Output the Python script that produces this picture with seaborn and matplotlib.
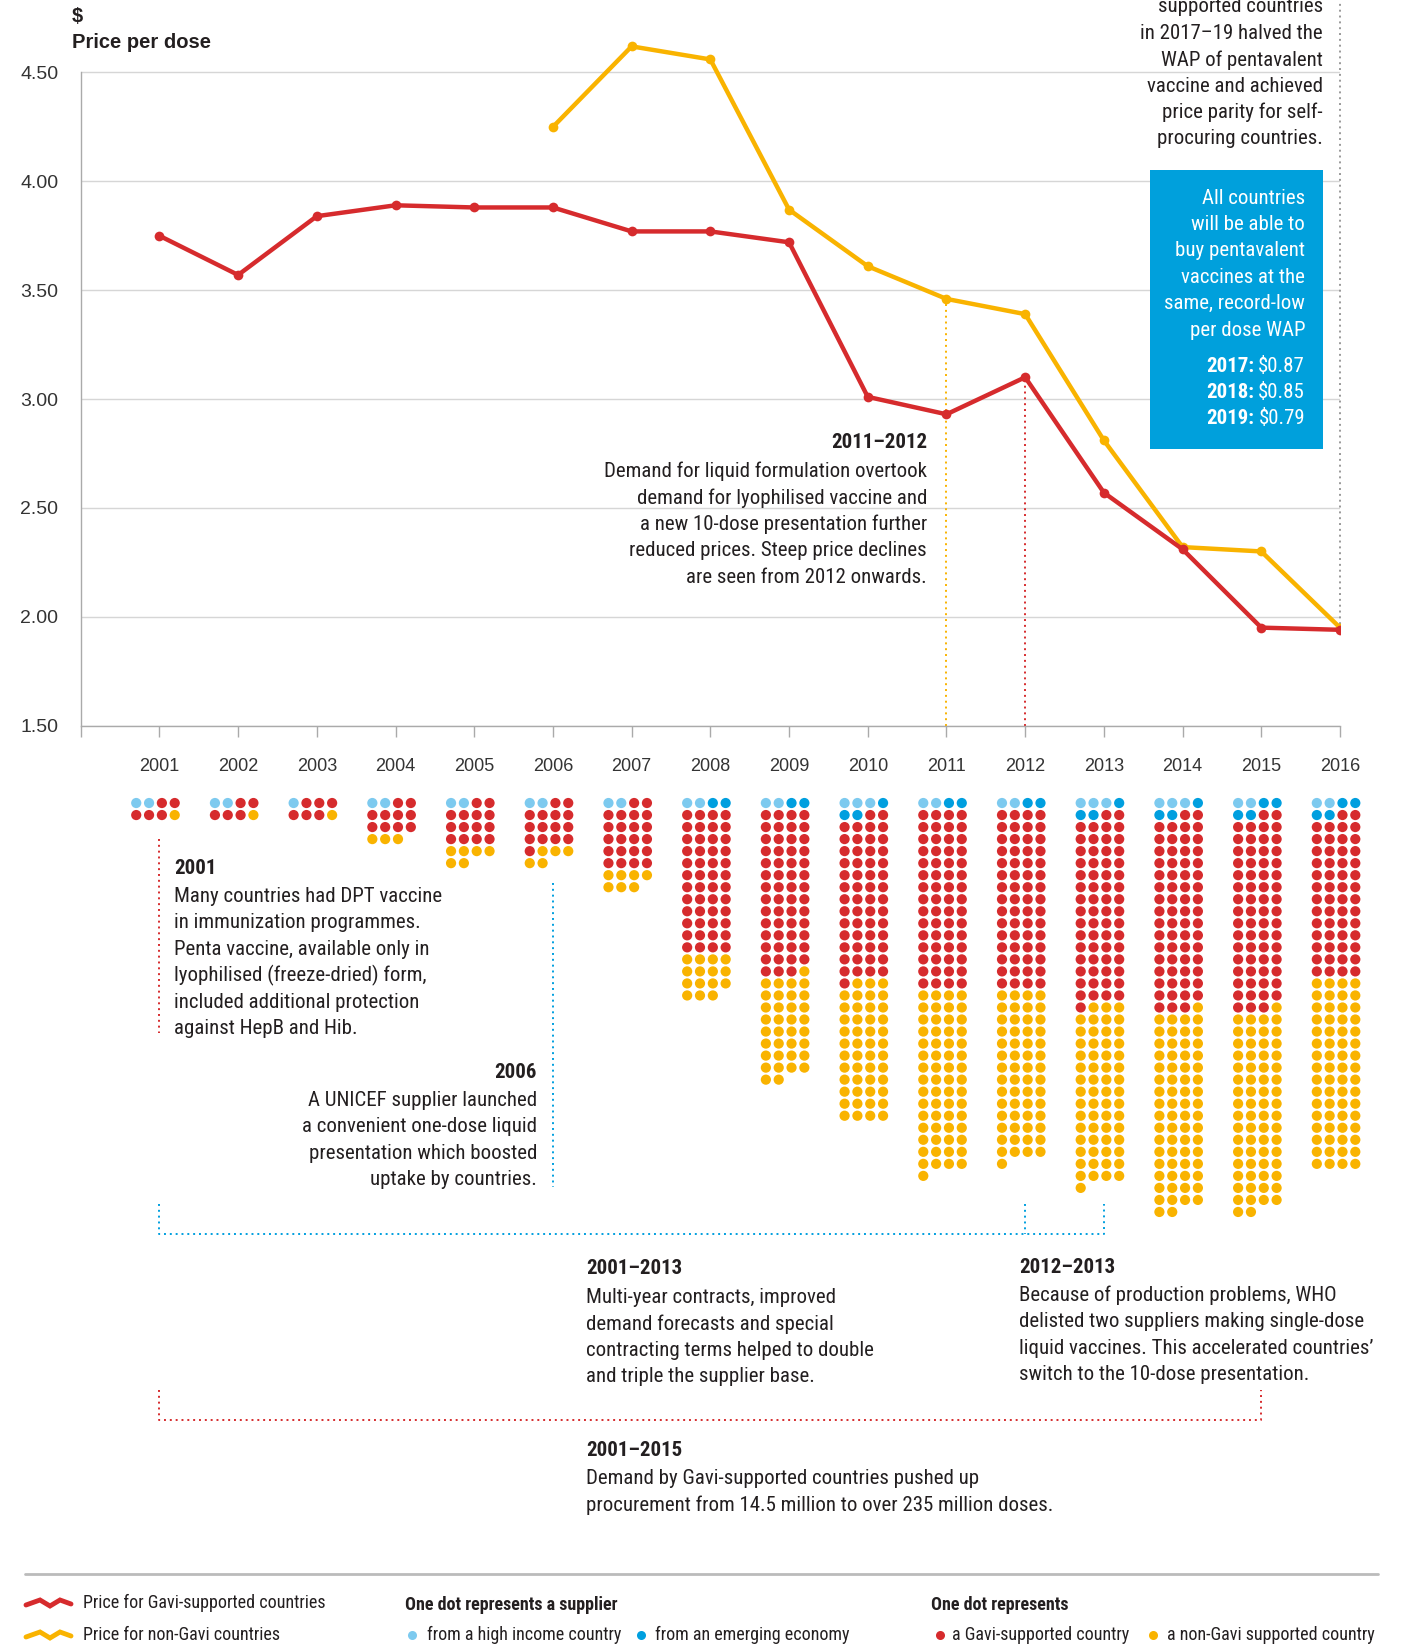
import numpy as np
import pandas as pd
import matplotlib.pyplot as plt
import matplotlib.transforms as mtransforms
from matplotlib.lines import Line2D
from matplotlib.patches import Rectangle
from matplotlib import font_manager
import seaborn as sns

# price per dose, $
years = list(range(2001, 2017))
gavi_price = [3.75, 3.57, 3.84, 3.89, 3.88, 3.88, 3.77, 3.77, 3.72, 3.01, 2.93, 3.10, 2.57, 2.31, 1.95, 1.94]
non_gavi_years = list(range(2006, 2017))
non_gavi_price = [4.25, 4.62, 4.56, 3.87, 3.61, 3.46, 3.39, 2.81, 2.32, 2.30, 1.95]

# one dot per supplier / country, per year
high_income = [2, 2, 1, 2, 2, 2, 2, 2, 2, 3, 2, 2, 3, 3, 2, 2]
emerging = [0, 0, 0, 0, 0, 0, 0, 2, 2, 3, 2, 2, 3, 3, 4, 4]
gavi_countries = [5, 5, 6, 10, 14, 15, 22, 48, 55, 55, 60, 60, 63, 65, 65, 54]
non_gavi_countries = [1, 1, 1, 3, 6, 5, 7, 15, 35, 47, 61, 57, 60, 67, 67, 64]

yticks = [1.5, 2.0, 2.5, 3.0, 3.5, 4.0, 4.5]

RED = '#D62B2D'
YEL = '#F9B300'
LBLUE = '#7DCAEF'
DBLUE = '#009FDF'
TXT = '#231F20'

sns.set_theme(style='white')
plt.rcParams['font.family'] = ['Liberation Sans', 'DejaVu Sans']
available = {f.name for f in font_manager.fontManager.ttflist}
NARROW = next((n for n in ['Liberation Sans Narrow', 'Roboto Condensed'] if n in available), 'Liberation Sans')
NSCALE = 1.0 if NARROW != 'Liberation Sans' else 0.84

W, H = 1402, 1644
fig = plt.figure(figsize=(W / 100, H / 100), dpi=100)


def fx(px):
    return px / W


def fy(py):
    return 1 - py / H


# ---- line chart ----
ax = fig.add_axes([fx(80.7), fy(725.6), fx(1340) - fx(80.7), 725.6 / H])
sns.lineplot(x=non_gavi_years, y=non_gavi_price, ax=ax, color=YEL, lw=3.2,
             marker='o', markersize=7, markeredgewidth=0, zorder=3)
sns.lineplot(x=years, y=gavi_price, ax=ax, color=RED, lw=3.2,
             marker='o', markersize=7, markeredgewidth=0, zorder=4)
ax.set_xlim(2000, 2016)
ax.set_ylim(1.5, 4.833)
ax.set_xlabel('')
ax.set_ylabel('')
ax.set_yticks(yticks)
ax.set_yticklabels([f'{v:.2f}' for v in yticks])
ax.set_xticks(range(2000, 2017))
ax.set_xticklabels([''] + [str(y) for y in years])
ax.tick_params(axis='y', length=11, width=1, color='#aaaaaa', pad=5, labelsize=14, labelcolor='#333333')
ax.tick_params(axis='x', length=8, width=1, color='#aaaaaa', pad=15, labelsize=13, labelcolor='#333333', bottom=True)
ax.grid(axis='y', color='#d6d6d6', lw=1)
for s in ['top', 'right']:
    ax.spines[s].set_visible(False)
for s in ['left', 'bottom']:
    ax.spines[s].set_color('#aaaaaa')
    ax.spines[s].set_linewidth(1)
ax.spines['left'].set_bounds(1.5, 4.5)
ax.patch.set_alpha(0)

# guide lines
ax.plot([2011, 2011], [1.5, non_gavi_price[non_gavi_years.index(2011)]], color=YEL, lw=1.4, ls=(0, (1, 2)), zorder=2)
ax.plot([2012, 2012], [1.5, gavi_price[years.index(2012)]], color=RED, lw=1.4, ls=(0, (1, 2)), zorder=2)
ax.plot([2016, 2016], [gavi_price[-1], 4.833], color='#999999', lw=1.4, ls=(0, (1, 2)), zorder=2, clip_on=False)

fig.text(fx(72), fy(17), '$', fontsize=14.5, fontweight='bold', color=TXT, va='center')
fig.text(fx(72), fy(42), 'Price per dose', fontsize=14.5, fontweight='bold', color=TXT, va='center')

# ---- dot grids ----
recs = []
for i, yr in enumerate(years):
    kinds = (['high'] * high_income[i] + ['emerging'] * emerging[i]
             + ['gavi'] * gavi_countries[i] + ['nongavi'] * non_gavi_countries[i])
    for k, kind in enumerate(kinds):
        recs.append({'x': yr - 0.05 + (k % 4 - 1.5) * 0.163, 'row': k // 4, 'kind': kind})
dots = pd.DataFrame(recs)

ax2 = fig.add_axes([fx(80.7), fy(1230), fx(1340) - fx(80.7), (1230 - 797) / H])
sns.scatterplot(data=dots, x='x', y='row', hue='kind', ax=ax2, s=54, linewidth=0, legend=False,
                palette={'high': LBLUE, 'emerging': DBLUE, 'gavi': RED, 'nongavi': YEL}, clip_on=False)
ax2.set_xlim(2000, 2016)
ax2.set_ylim(35.5, -0.5)
ax2.axis('off')

# brackets and guides (x in years, y in figure pixels)
tr = mtransforms.blended_transform_factory(ax2.transData, fig.transFigure)
dotted = dict(lw=1.4, ls=(0, (1, 2)), transform=tr, clip_on=False)


def guide(xs, ys, color):
    fig.add_artist(Line2D(xs, [fy(v) for v in ys], color=color, **dotted))


guide([2001, 2001], [839, 1033], RED)
guide([2006, 2006], [883, 1187], DBLUE)
guide([2001, 2001, 2013, 2013], [1204, 1234, 1234, 1204], DBLUE)
guide([2012, 2012], [1204, 1234], DBLUE)
guide([2001, 2001, 2015, 2015], [1390, 1420, 1420, 1390], RED)

# ---- annotations ----
STEP = 26.4
BODY = 15


def block(x, y, lines, ha='left', color=TXT, size=BODY, bold_first=True):
    for i, line in enumerate(lines):
        bold = bold_first and i == 0
        yy = y + 2 + i * STEP + (2 if (bold_first and i > 0) else 0)
        fig.text(fx(x), fy(yy), line, ha=ha, va='center', fontsize=size * NSCALE,
                 color=color, family=NARROW, fontweight='bold' if bold else 'normal')


block(1323, 5, ['supported countries', 'in 2017–19 halved the', 'WAP of pentavalent',
                'vaccine and achieved', 'price parity for self-', 'procuring countries.'],
      ha='right', bold_first=False)

fig.add_artist(Rectangle((fx(1150), fy(449)), fx(1323) - fx(1150), (449 - 170) / H,
                         transform=fig.transFigure, color='#00A0DC', lw=0, zorder=5))
for i, line in enumerate(['All countries', 'will be able to', 'buy pentavalent',
                          'vaccines at the', 'same, record-low', 'per dose WAP']):
    fig.text(fx(1305), fy(198 + i * STEP), line, ha='right', va='center', fontsize=BODY * NSCALE,
             color='white', family=NARROW, zorder=6)
renderer = fig.canvas.get_renderer()
for i, (lab, val) in enumerate([('2017:', '$0.87'), ('2018:', '$0.85'), ('2019:', '$0.79')]):
    t = fig.text(fx(1305), fy(366 + i * STEP), val, ha='right', va='center', fontsize=BODY * NSCALE,
                 color='white', family=NARROW, zorder=6)
    left = t.get_window_extent(renderer).x0
    fig.text(fx(left - 4), fy(366 + i * STEP), lab, ha='right', va='center', fontsize=BODY * NSCALE,
             color='white', family=NARROW, fontweight='bold', zorder=6)

block(927, 441, ['2011–2012', 'Demand for liquid formulation overtook',
                 'demand for lyophilised vaccine and', 'a new 10-dose presentation further',
                 'reduced prices. Steep price declines', 'are seen from 2012 onwards.'], ha='right')

block(174, 866, ['2001', 'Many countries had DPT vaccine', 'in immunization programmes.',
                 'Penta vaccine, available only in', 'lyophilised (freeze-dried) form,',
                 'included additional protection', 'against HepB and Hib.'])

block(537, 1070, ['2006', 'A UNICEF supplier launched', 'a convenient one-dose liquid',
                  'presentation which boosted', 'uptake by countries.'], ha='right')

block(586, 1267, ['2001–2013', 'Multi-year contracts, improved', 'demand forecasts and special',
                  'contracting terms helped to double', 'and triple the supplier base.'])

block(1019, 1265, ['2012–2013', 'Because of production problems, WHO',
                   'delisted two suppliers making single-dose',
                   'liquid vaccines. This accelerated countries’',
                   'switch to the 10-dose presentation.'])

block(586, 1448, ['2001–2015', 'Demand by Gavi-supported countries pushed up',
                  'procurement from 14.5 million to over 235 million doses.'])

# ---- legend ----
LEG = 13
fig.add_artist(Line2D([fx(25), fx(1378)], [fy(1574), fy(1574)], color='#bbbbbb', lw=2))
for yy, col, lab in [(1603, RED, 'Price for Gavi-supported countries'),
                     (1635, YEL, 'Price for non-Gavi countries')]:
    fig.add_artist(Line2D([fx(26), fx(40), fx(50), fx(60), fx(71)],
                          [fy(yy + 2), fy(yy - 3), fy(yy + 3), fy(yy - 3), fy(yy + 1)],
                          color=col, lw=3.5, solid_joinstyle='miter'))
    fig.text(fx(83), fy(yy), lab, ha='left', va='center', fontsize=LEG * NSCALE, color=TXT, family=NARROW)

fig.text(fx(405), fy(1605), 'One dot represents a supplier', ha='left', va='center',
         fontsize=LEG * NSCALE, fontweight='bold', color=TXT, family=NARROW)
fig.text(fx(931), fy(1605), 'One dot represents', ha='left', va='center',
         fontsize=LEG * NSCALE, fontweight='bold', color=TXT, family=NARROW)
for dx, col, tx, lab in [(412, LBLUE, 427, 'from a high income country'),
                         (641, DBLUE, 655, 'from an emerging economy'),
                         (940, RED, 952, 'a Gavi-supported country'),
                         (1153, YEL, 1167, 'a non-Gavi supported country')]:
    fig.add_artist(Line2D([fx(dx)], [fy(1635)], marker='o', ms=6.5, mew=0, color=col, ls=''))
    fig.text(fx(tx), fy(1635), lab, ha='left', va='center', fontsize=LEG * NSCALE, color=TXT, family=NARROW)

fig.savefig('out.png', dpi=100)
